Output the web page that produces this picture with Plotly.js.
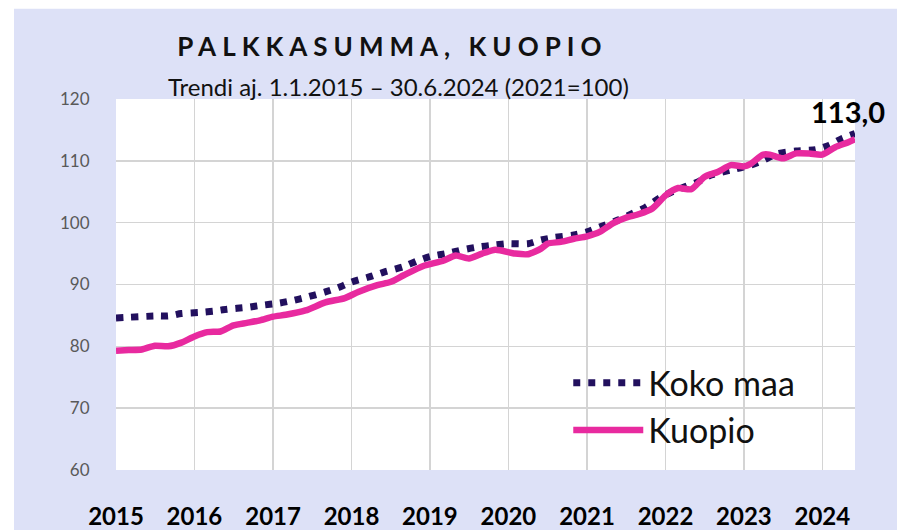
<!DOCTYPE html>
<html>
<head>
<meta charset="utf-8">
<script src="https://cdn.plot.ly/plotly-3.0.1.min.js"></script>
<style>
  html, body { margin: 0; padding: 0; background: #ffffff; }
  #chart { width: 897px; height: 530px; }
  .gtitle { letter-spacing: 6px; }
  .main-svg text { font-variant-numeric: oldstyle-nums; }
</style>
</head>
<body>
<div id="chart"></div>
<script>
// Koko maa (whole country) trend
const kokoDates = ['2015-01','2015-07','2015-09','2015-11','2016-02','2016-04','2016-06','2016-09','2016-11',
  '2017-02','2017-04','2017-06','2017-09','2017-11','2018-01','2018-04','2018-06','2018-09','2018-11',
  '2019-01','2019-04','2019-06','2019-08','2019-11','2020-01','2020-04','2020-06','2020-08','2020-11',
  '2021-01','2021-03','2021-06','2021-08','2021-10','2021-12','2022-02','2022-04','2022-06','2022-08',
  '2022-11','2023-02','2023-04','2023-06','2023-09','2023-12','2024-02','2024-04','2024-06'];
const kokoValues = [84.6,84.9,84.9,85.3,85.5,85.7,86.0,86.3,86.6,
  87.0,87.4,87.9,88.8,89.5,90.4,91.3,92.0,92.9,93.8,
  94.5,95.1,95.6,96.0,96.4,96.6,96.6,97.2,97.6,98.0,
  98.5,99.3,100.5,101.5,102.5,103.9,105.0,105.8,106.6,107.7,
  108.5,109.3,110.1,111.1,111.6,111.8,112.5,113.6,114.4];

// Kuopio trend
const kuopioDates = ['2015-01','2015-03','2015-05','2015-07','2015-09','2015-11','2016-01','2016-03','2016-05',
  '2016-07','2016-09','2016-11','2017-01','2017-03','2017-06','2017-09','2017-12','2018-02','2018-05',
  '2018-07','2018-09','2018-12','2019-03','2019-05','2019-07','2019-09','2019-11','2020-02','2020-04',
  '2020-06','2020-07','2020-09','2020-11','2021-01','2021-03','2021-05','2021-07','2021-09','2021-11',
  '2022-01','2022-03','2022-05','2022-07','2022-09','2022-11','2023-01','2023-02','2023-04','2023-05',
  '2023-07','2023-09','2023-11','2024-01','2024-03','2024-05','2024-06'];
const kuopioValues = [79.3,79.4,79.5,80.1,80.0,80.6,81.6,82.3,82.4,
  83.4,83.8,84.2,84.8,85.1,85.8,87.1,87.8,88.8,89.9,
  90.4,91.5,93.0,93.8,94.7,94.2,95.0,95.6,95.0,94.9,
  95.8,96.6,96.9,97.4,97.8,98.5,99.9,100.8,101.4,102.3,
  104.4,105.6,105.4,107.4,108.2,109.3,109.1,109.5,111.0,111.0,
  110.4,111.2,111.2,111.0,112.2,113.0,113.5];

const yearTicks = ['2015-01-01','2016-01-01','2017-01-01','2018-01-01','2019-01-01','2020-01-01',
  '2021-01-01','2022-01-01','2023-01-01','2024-01-01'];
const yearLabels = ['2015','2016','2017','2018','2019','2020','2021','2022','2023','2024'];
const seriesNames = ['Koko maa','Kuopio'];
const lastLabel = '113,0';

const FONT = 'Lato, "Open Sans", sans-serif';

const traces = [
  {
    x: kokoDates, y: kokoValues, name: seriesNames[0], type: 'scatter', mode: 'lines',
    line: { color: '#22105e', width: 7, dash: '7px,8px', shape: 'spline', smoothing: 0.6 },
    hoverinfo: 'skip'
  },
  {
    x: kuopioDates, y: kuopioValues, name: seriesNames[1], type: 'scatter', mode: 'lines',
    line: { color: '#e82a9f', width: 6.5, shape: 'spline', smoothing: 0.6 },
    hoverinfo: 'skip'
  }
];

const layout = {
  width: 897, height: 530,
  margin: { l: 116, r: 42, t: 98.5, b: 59.5 },
  paper_bgcolor: '#dde1f7',
  plot_bgcolor: '#ffffff',
  font: { family: FONT, color: '#000000' },
  title: {
    text: '<b>PALKKASUMMA, KUOPIO</b>',
    font: { family: FONT, size: 26, color: '#111111' },
    x: 0.374, xanchor: 'center', xref: 'paper',
    y: 0.911, yanchor: 'middle', yref: 'container'
  },
  showlegend: true,
  legend: {
    x: 0.612, y: 0.312, xanchor: 'left', yanchor: 'top',
    bgcolor: 'rgba(0,0,0,0)', borderwidth: 0,
    font: { family: FONT, size: 34, color: '#111111' },
    itemwidth: 70, tracegroupgap: 0
  },
  xaxis: {
    type: 'date',
    range: ['2015-01-01', '2024-06-01'],
    tickmode: 'array', tickvals: yearTicks, ticktext: yearLabels,
    showgrid: true, gridcolor: '#d4d4d4', gridwidth: 1.5,
    zeroline: false, showline: false,
    ticks: 'outside', ticklen: 25, tickcolor: 'rgba(0,0,0,0)',
    tickfont: { family: FONT, size: 24, color: '#000000', weight: 'bold' },
    fixedrange: true
  },
  yaxis: {
    range: [60, 120],
    tickmode: 'array', tickvals: [60,70,80,90,100,110,120],
    showgrid: true, gridcolor: '#d4d4d4', gridwidth: 1.5,
    zeroline: false, showline: false,
    ticks: 'outside', ticklen: 22, tickcolor: 'rgba(0,0,0,0)',
    tickfont: { family: FONT, size: 17, color: '#595959' },
    fixedrange: true
  },
  annotations: [
    {
      text: 'Trendi aj. 1.1.2015 – 30.6.2024 (2021=100)',
      xref: 'paper', yref: 'paper', x: 0.3816, y: 1.035,
      xanchor: 'center', yanchor: 'middle', showarrow: false,
      font: { family: FONT, size: 24, color: '#111111' }
    },
    {
      text: '<b>' + lastLabel + '</b>',
      xref: 'x', yref: 'y', x: kuopioDates[kuopioDates.length - 1], y: kuopioValues[kuopioValues.length - 1],
      xanchor: 'center', yanchor: 'middle', xshift: -7, yshift: 28, showarrow: false,
      font: { family: FONT, size: 29, color: '#000000' }
    }
  ],
  shapes: [
    { type: 'rect', xref: 'paper', yref: 'paper', x0: -0.2, x1: 1.2, y0: 1.2433, y1: 1.3,
      fillcolor: '#ffffff', line: { width: 0 }, layer: 'below' },
    { type: 'rect', xref: 'paper', yref: 'paper', x0: -0.2, x1: -0.138, y0: -0.2, y1: 1.3,
      fillcolor: '#ffffff', line: { width: 0 }, layer: 'below' }
  ]
};

Plotly.newPlot('chart', traces, layout, { displayModeBar: false, staticPlot: true });
</script>
</body>
</html>
